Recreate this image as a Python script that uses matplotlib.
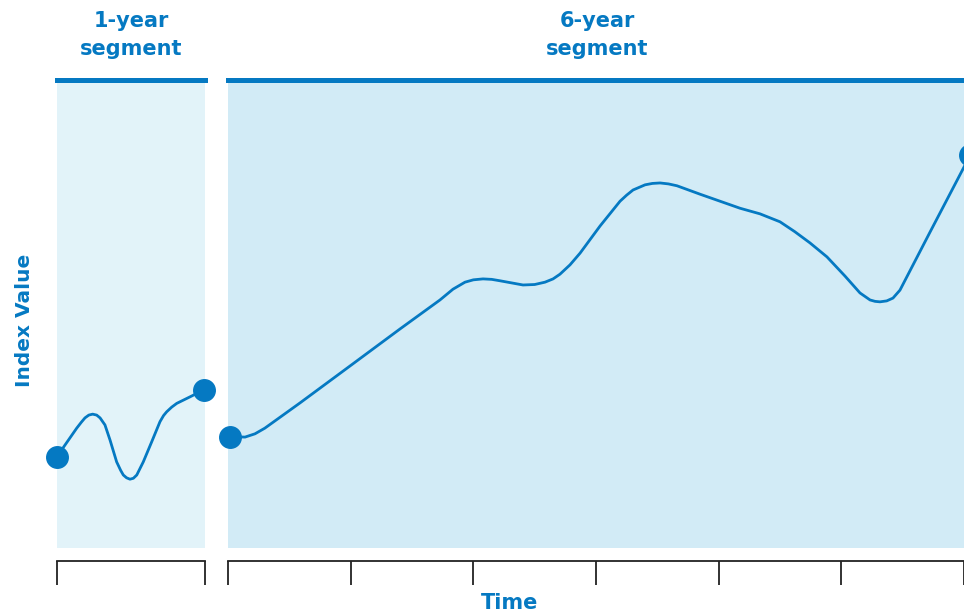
import matplotlib
matplotlib.use('Agg')
import matplotlib.pyplot as plt

# index values (0 = bottom of shaded area, 100 = top)
one_year_t = [0.0, 0.054, 0.133, 0.165, 0.189, 0.215, 0.241, 0.268, 0.291, 0.324,
              0.358, 0.403, 0.430, 0.448, 0.470, 0.493, 0.516, 0.539, 0.583, 0.640,
              0.696, 0.720, 0.741, 0.775, 0.809, 0.899, 0.993]
one_year_v = [19.5, 22.0, 25.6, 26.9, 27.8, 28.4, 28.6, 28.4, 27.8, 26.3,
              23.1, 18.4, 16.6, 15.6, 15.0, 14.7, 14.9, 15.6, 18.4, 22.7,
              27.0, 28.3, 29.1, 30.1, 30.9, 32.3, 33.8]

six_year_t = [0.016, 0.139, 0.22, 0.30, 0.587, 0.995, 1.402, 1.728, 1.834, 1.932,
              2.00, 2.079, 2.150, 2.217, 2.405, 2.50, 2.584, 2.650, 2.706, 2.788,
              2.870, 3.033, 3.196, 3.250, 3.302, 3.40, 3.460, 3.522, 3.590, 3.660,
              3.848, 4.174, 4.337, 4.50, 4.62, 4.744, 4.883, 5.03, 5.152, 5.234,
              5.275, 5.315, 5.370, 5.421, 5.478, 5.723, 6.0, 6.05]
six_year_v = [23.8, 23.7, 24.4, 25.6, 31.0, 38.9, 46.8, 53.0, 55.3, 56.8,
              57.3, 57.5, 57.4, 57.1, 56.2, 56.3, 56.8, 57.5, 58.5, 60.5,
              63.0, 68.8, 74.1, 75.4, 76.5, 77.6, 77.9, 78.0, 77.8, 77.4,
              75.6, 72.6, 71.4, 69.7, 67.6, 65.2, 62.2, 58.1, 54.5, 53.0,
              52.7, 52.6, 52.8, 53.4, 55.1, 67.5, 81.4, 84.0]

one_year_ticks = [0, 1]
six_year_ticks = [0, 1, 2, 3, 4, 5, 6]

BLUE = '#0579C2'
W, H = 964, 616

fig = plt.figure(figsize=(W / 100, H / 100), dpi=100)


def segment_axes(x0, x1, shade, tmax, ticks):
    ax = fig.add_axes([x0 / W, 1 - 548 / H, (x1 - x0) / W, (548 - 80) / H])
    ax.set_facecolor(shade)
    ax.set_xlim(0, tmax)
    ax.set_ylim(0, 100)
    for s in ['left', 'right']:
        ax.spines[s].set_visible(False)
    ax.spines['top'].set_color(BLUE)
    ax.spines['top'].set_linewidth(3.6)
    ax.spines['bottom'].set_position(('outward', 9.5))
    ax.spines['bottom'].set_color('#222222')
    ax.spines['bottom'].set_linewidth(1.3)
    ax.set_xticks(ticks)
    ax.tick_params(axis='x', direction='out', length=17, width=1.3,
                   color='#222222', labelbottom=False)
    ax.set_yticks([])
    return ax


ax1 = segment_axes(57, 205, '#E2F3F9', 1, one_year_ticks)
ax2 = segment_axes(228, 964, '#D2EBF6', 6, six_year_ticks)

for ax, t, v in [(ax1, one_year_t, one_year_v), (ax2, six_year_t, six_year_v)]:
    ax.plot(t, v, color=BLUE, lw=2.0, solid_capstyle='round',
            solid_joinstyle='round', clip_on=False)
    ax.plot([t[0], t[-1]], [v[0], v[-1]], 'o', color=BLUE, ms=15.5,
            clip_on=False, zorder=5)

font = dict(family='DejaVu Sans', weight='bold', color=BLUE)
fig.text(131 / W, 1 - 35 / H, '1-year\nsegment', ha='center', va='center',
         fontsize=15, linespacing=1.45, **font)
fig.text(597 / W, 1 - 35 / H, '6-year\nsegment', ha='center', va='center',
         fontsize=15, linespacing=1.45, **font)
fig.text(25 / W, 1 - 320 / H, 'Index Value', rotation=90, ha='center',
         va='center', fontsize=14.5, **font)
fig.text(510 / W, 1 - 603 / H, 'Time', ha='center', va='center',
         fontsize=15, **font)

fig.savefig('out.png', dpi=100)
